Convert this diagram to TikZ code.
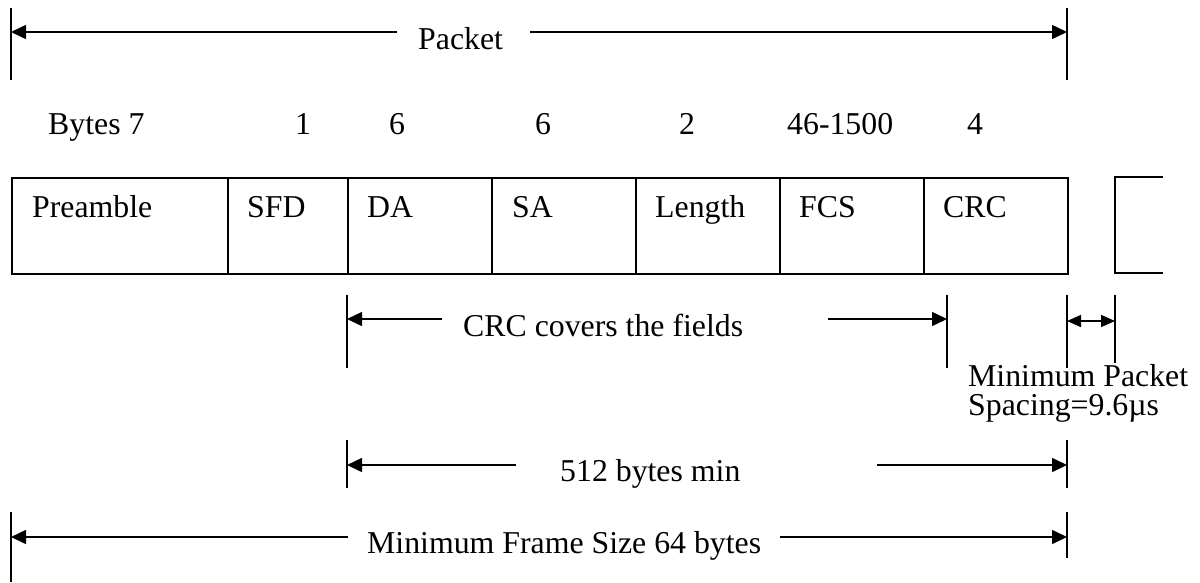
\documentclass[tikz,border=0pt]{standalone}
\usepackage{fontspec}
\setmainfont{Liberation Serif}
\usetikzlibrary{arrows.meta}
\begin{document}
\begin{tikzpicture}[x=1pt,y=-1pt,
  txt/.style={font=\fontsize{31.8}{38}\selectfont, inner sep=0pt, anchor=base west},
  ctxt/.style={font=\fontsize{31.8}{38}\selectfont, inner sep=0pt, anchor=base},
  field/.style={draw, line width=1.8pt, minimum height=96pt, inner sep=0pt, anchor=north west},
  tick/.style={line width=1.8pt},
  dim/.style={line width=1.5pt, -{Triangle[length=15pt,width=14pt]}},
  dimboth/.style={line width=1.5pt, {Triangle[length=14pt,width=12pt]}-{Triangle[length=14pt,width=12pt]}}]
\useasboundingbox (0,0) rectangle (1200,582);

% ---- Packet dimension
\coordinate (pkLt) at (11,8);   \coordinate (pkLb) at (11,80);
\coordinate (pkRt) at (1067,8); \coordinate (pkRb) at (1067,80);
\coordinate (pkL) at (11,32);   \coordinate (pkR) at (1067,32);
\coordinate (pkA) at (397,32);  \coordinate (pkB) at (530,32);
\draw[tick] (pkLt) -- (pkLb);
\draw[tick] (pkRt) -- (pkRb);
\node[txt] (packet) at (418,49) {Packet};
\draw[dim] (pkA) -- (pkL);
\draw[dim] (pkB) -- (pkR);

% ---- Bytes row
\node[txt] (bytes) at (48,134) {Bytes 7};
\node[ctxt] (b1) at (303,134) {1};
\node[ctxt] (b2) at (397,134) {6};
\node[ctxt] (b3) at (543,134) {6};
\node[ctxt] (b4) at (687,134) {2};
\node[txt]  (b5) at (787,134) {46-1500};
\node[ctxt] (b6) at (975,134) {4};

% ---- Fields
\node[field, minimum width=216pt] (pre) at (11,177) {};
\node[field, minimum width=120pt] (sfd) at (227,177) {};
\node[field, minimum width=144pt] (da)  at (347,177) {};
\node[field, minimum width=144pt] (sa)  at (491,177) {};
\node[field, minimum width=144pt] (len) at (635,177) {};
\node[field, minimum width=144pt] (fcs) at (779,177) {};
\node[field, minimum width=144pt] (crc) at (923,177) {};
\node[txt] (tpre) at (32,217) {Preamble};
\node[txt] (tsfd) at (247,217) {SFD};
\node[txt] (tda)  at (367,217) {DA};
\node[txt] (tsa)  at (512,217) {SA};
\node[txt] (tlen) at (655,217) {Length};
\node[txt] (tfcs) at (799,217) {FCS};
\node[txt] (tcrc) at (943,217) {CRC};
\coordinate (nxA) at (1163,177); \coordinate (nxB) at (1115,177);
\coordinate (nxC) at (1115,273); \coordinate (nxD) at (1163,273);
\draw[line width=1.8pt] (nxA) -- (nxB) -- (nxC) -- (nxD);

% ---- CRC covers the fields
\coordinate (ccLt) at (347,295); \coordinate (ccLb) at (347,368);
\coordinate (ccRt) at (947,295); \coordinate (ccRb) at (947,368);
\coordinate (ccL) at (347,319);  \coordinate (ccR) at (947,319);
\coordinate (ccA) at (442,319);  \coordinate (ccB) at (828,319);
\draw[tick] (ccLt) -- (ccLb);
\draw[tick] (ccRt) -- (ccRb);
\node[txt] (crccov) at (463,336) {CRC covers the fields};
\draw[dim] (ccA) -- (ccL);
\draw[dim] (ccB) -- (ccR);

% ---- Minimum packet spacing
\coordinate (spLt) at (1067,295); \coordinate (spLb) at (1067,368);
\coordinate (spRt) at (1115,295); \coordinate (spRb) at (1115,363);
\coordinate (spL) at (1067,321);  \coordinate (spR) at (1115,321);
\draw[tick] (spLt) -- (spLb);
\draw[tick] (spRt) -- (spRb);
\draw[dimboth] (spL) -- (spR);
\node[txt] (mps1) at (968,386) {Minimum Packet};
\node[txt] (mps2) at (968,415) {Spacing=9.6µs};

% ---- 512 bytes min
\coordinate (mbLt) at (347,440);  \coordinate (mbLb) at (347,488);
\coordinate (mbRt) at (1067,440); \coordinate (mbRb) at (1067,488);
\coordinate (mbL) at (347,465);   \coordinate (mbR) at (1067,465);
\coordinate (mbA) at (516,465);   \coordinate (mbB) at (877,465);
\draw[tick] (mbLt) -- (mbLb);
\draw[tick] (mbRt) -- (mbRb);
\node[txt] (mb) at (560,481) {512 bytes min};
\draw[dim] (mbA) -- (mbL);
\draw[dim] (mbB) -- (mbR);

% ---- Minimum frame size
\coordinate (fsLt) at (11,512);   \coordinate (fsLb) at (11,582);
\coordinate (fsRt) at (1067,512); \coordinate (fsRb) at (1067,558);
\coordinate (fsL) at (11,537);    \coordinate (fsR) at (1067,537);
\coordinate (fsA) at (348,537);   \coordinate (fsB) at (780,537);
\draw[tick] (fsLt) -- (fsLb);
\draw[tick] (fsRt) -- (fsRb);
\node[txt] (fs) at (367,553) {Minimum Frame Size 64 bytes};
\draw[dim] (fsA) -- (fsL);
\draw[dim] (fsB) -- (fsR);
\end{tikzpicture}
\end{document}
